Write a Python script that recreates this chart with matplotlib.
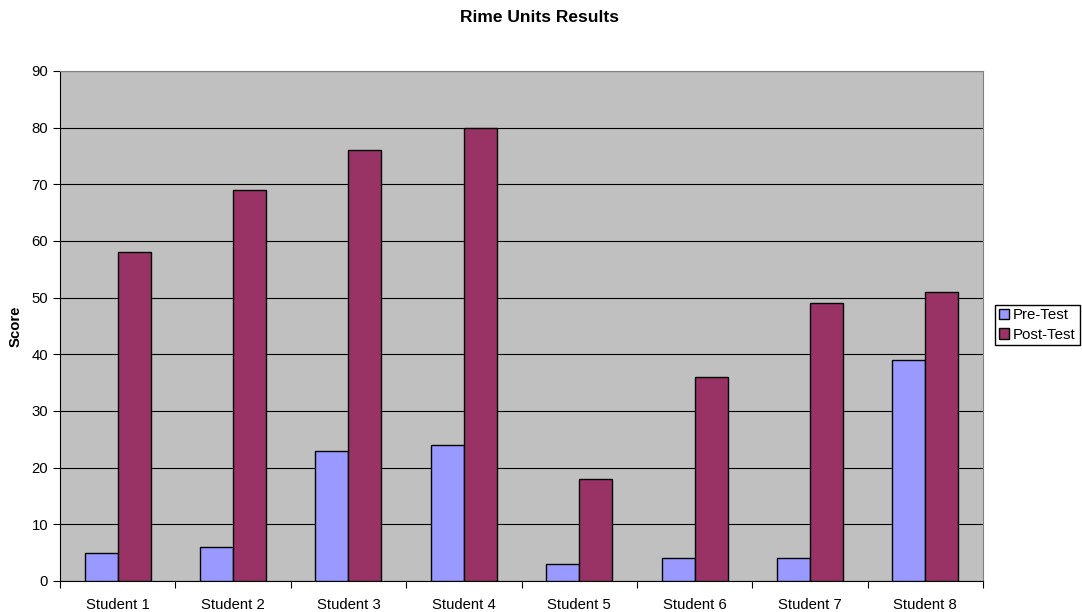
import numpy as np
import matplotlib
matplotlib.use('Agg')
import matplotlib.pyplot as plt

students = ['Student 1', 'Student 2', 'Student 3', 'Student 4',
            'Student 5', 'Student 6', 'Student 7', 'Student 8']
pre_test = [5, 6, 23, 24, 3, 4, 4, 39]
post_test = [58, 69, 76, 80, 18, 36, 49, 51]
y_ticks = [0, 10, 20, 30, 40, 50, 60, 70, 80, 90]

plt.rcParams['font.family'] = ['Liberation Sans', 'DejaVu Sans']

fig = plt.figure(figsize=(10.82, 6.12), dpi=100)
ax = fig.add_axes([60/1082, 1 - 581/612, (983-60)/1082, (581-71)/612])
ax.set_facecolor('#C0C0C0')

x = np.arange(len(students))
w = 0.286
ax.bar(x - w/2, pre_test, w, color='#9999FF', edgecolor='black', linewidth=1, label='Pre-Test', zorder=3)
ax.bar(x + w/2, post_test, w, color='#993366', edgecolor='black', linewidth=1, label='Post-Test', zorder=3)

ax.set_xlim(-0.5, len(students) - 0.5)
ax.set_ylim(0, 90)
ax.set_yticks(y_ticks)
ax.yaxis.grid(True, color='black', linewidth=0.8, zorder=1)
ax.set_axisbelow(True)

# category ticks sit between groups, labels centered under groups
ax.set_xticks(np.arange(len(students) + 1) - 0.5)
ax.set_xticklabels([])
ax.set_xticks(x, minor=True)
ax.set_xticklabels(students, minor=True, fontsize=10.7)
ax.tick_params(axis='x', which='minor', length=0, pad=12)
ax.tick_params(axis='x', which='major', length=5, direction='out')
ax.tick_params(axis='y', length=5, labelsize=10.7)

for side in ['top', 'right']:
    ax.spines[side].set_color('#808080')
ax.spines['left'].set_color('black')
ax.spines['bottom'].set_color('black')

fig.text(16/1082, 1 - 326/612, 'Score', rotation=90, ha='center', va='center',
         fontsize=10.7, fontweight='bold')
fig.text(539/1082, 1 - 17/612, 'Rime Units Results', ha='center', va='center',
         fontsize=12.5, fontweight='bold')

leg = ax.legend(loc='center left', bbox_to_anchor=(995/1082, 1 - 325/612),
                bbox_transform=fig.transFigure, fontsize=10.8, frameon=True,
                fancybox=False, edgecolor='black', framealpha=1,
                handlelength=0.7, handleheight=0.7, handletextpad=0.25,
                borderpad=0.25, labelspacing=0.35, borderaxespad=0)
leg.get_frame().set_linewidth(1)

plt.savefig('out.png', dpi=100)
